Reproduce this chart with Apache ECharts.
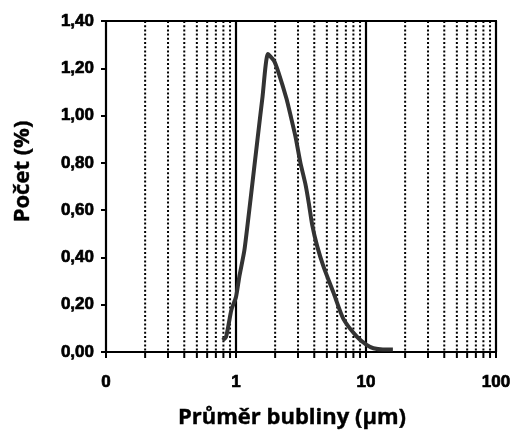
<!DOCTYPE html>
<html>
<head>
<meta charset="utf-8">
<script src="https://cdn.jsdelivr.net/npm/echarts@6/dist/echarts.min.js"></script>
<style>html,body{margin:0;padding:0;background:#fff;}#c{width:515px;height:439px;}</style>
</head>
<body>
<div id="c"></div>
<script>
var diameters = [0.79,0.84,0.92,1.0,1.06,1.16,1.29,1.46,1.60,1.76,1.96,2.13,2.45,2.63,2.87,3.13,3.42,3.63,3.85,4.2,4.72,5.63,6.7,8.5,10.1,11.4,13.5,16.1];
var counts = [0.05,0.065,0.177,0.233,0.318,0.43,0.64,0.895,1.08,1.26,1.232,1.18,1.07,1.0,0.91,0.80,0.71,0.63,0.54,0.45,0.36,0.25,0.14,0.065,0.03,0.016,0.011,0.011];
var minorGrid = [0.2,0.3,0.4,0.5,0.6,0.7,0.8,0.9,2,3,4,5,6,7,8,9,20,30,40,50,60,70,80,90];
var xTickLabels = {0.1:'0', 1:'1', 10:'10', 100:'100'};
var yTitle = 'Počet (%)';
var xTitle = 'Průměr bubliny (µm)';

var chart = echarts.init(document.getElementById('c'), null, {renderer:'canvas'});
var curve = diameters.map(function(d,i){return [d, counts[i]];});
var font = '"Liberation Sans", Arial, sans-serif';
chart.setOption({
  animation:false,
  grid:{left:106,right:19,top:21,bottom:87,show:true,borderColor:'#000',borderWidth:2,backgroundColor:'transparent'},
  xAxis:{type:'log',logBase:10,min:0.1,max:100,
    name:xTitle,nameLocation:'middle',nameGap:55,
    nameTextStyle:{fontFamily:'"Open Sans", sans-serif',fontWeight:'bold',fontSize:22,color:'#000',padding:[0,18,0,0],textBorderColor:'#000',textBorderWidth:0.4},
    axisLine:{lineStyle:{color:'#000',width:2}},
    axisTick:{show:true,length:6,lineStyle:{color:'#000',width:2}},
    axisLabel:{margin:22,fontFamily:font,fontWeight:'bold',fontSize:17,color:'#000',textBorderColor:'#000',textBorderWidth:0.7,
      formatter:function(v){var k=Math.round(v*10)/10; return xTickLabels[k]!==undefined?xTickLabels[k]:'';}},
    splitLine:{show:true,lineStyle:{color:'#000',width:2.2}},
    minorTick:{show:false}},
  yAxis:{type:'value',min:0,max:1.4,interval:0.2,
    name:yTitle,nameLocation:'middle',nameGap:72,nameRotate:90,
    nameTextStyle:{fontFamily:'"Open Sans", sans-serif',fontWeight:'bold',fontSize:22,color:'#000',padding:[0,0,0,30],textBorderColor:'#000',textBorderWidth:0.4},
    axisLine:{show:true,lineStyle:{color:'#000',width:2}},
    axisTick:{show:true,length:5,lineStyle:{color:'#000',width:2}},
    axisLabel:{margin:12,fontFamily:font,fontWeight:'bold',fontSize:17,color:'#000',textBorderColor:'#000',textBorderWidth:0.7,
      formatter:function(v){return v.toFixed(2).replace('.',',');}},
    splitLine:{show:false}},
  series:[
    {type:'custom',silent:true,clip:false,z:1,
     data:minorGrid.map(function(v){return [v];}),
     renderItem:function(params,api){
       var cs=params.coordSys;
       var p=api.coord([api.value(0),0]);
       var top=cs.y, bot=cs.y+cs.height;
       return {type:'group',children:[
         {type:'line',shape:{x1:p[0],y1:top,x2:p[0],y2:bot},style:{stroke:'#000',lineWidth:2,lineDash:[2,2.2]}},
         {type:'line',shape:{x1:p[0],y1:bot,x2:p[0],y2:bot+6},style:{stroke:'#000',lineWidth:2}}
       ]};
     }},
    {type:'line',data:curve,showSymbol:false,smooth:0.2,z:3,
     lineStyle:{color:'#333',width:4}}
  ]
});
</script>
</body>
</html>
